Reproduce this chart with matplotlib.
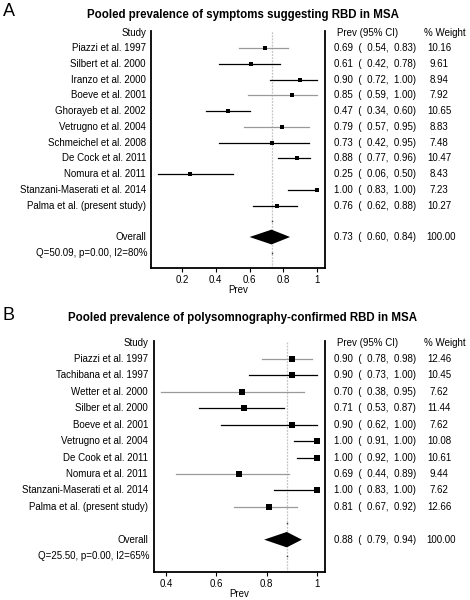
import matplotlib
matplotlib.use("Agg")
import matplotlib.pyplot as plt
import matplotlib.transforms as mtransforms

plt.rcParams['font.family'] = ['Liberation Sans', 'DejaVu Sans']

# panel A: symptoms suggesting RBD
studies_a = ["Piazzi et al. 1997", "Silbert et al. 2000", "Iranzo et al. 2000",
             "Boeve et al. 2001", "Ghorayeb et al. 2002", "Vetrugno et al. 2004",
             "Schmeichel et al. 2008", "De Cock et al. 2011", "Nomura et al. 2011",
             "Stanzani-Maserati et al. 2014", "Palma et al. (present study)"]
prev_a = [0.69, 0.61, 0.90, 0.85, 0.47, 0.79, 0.73, 0.88, 0.25, 1.00, 0.76]
lo_a = [0.54, 0.42, 0.72, 0.59, 0.34, 0.57, 0.42, 0.77, 0.06, 0.83, 0.62]
hi_a = [0.83, 0.78, 1.00, 1.00, 0.60, 0.95, 0.95, 0.96, 0.50, 1.00, 0.88]
weight_a = [10.16, 9.61, 8.94, 7.92, 10.65, 8.83, 7.48, 10.47, 8.43, 7.23, 10.27]
overall_a = [0.73, 0.60, 0.84]
het_a = "Q=50.09, p=0.00, I2=80%"
ticks_a = [0.2, 0.4, 0.6, 0.8, 1.0]
ticklabels_a = ["0.2", "0.4", "0.6", "0.8", "1"]

# panel B: polysomnography-confirmed RBD
studies_b = ["Piazzi et al. 1997", "Tachibana et al. 1997", "Wetter et al. 2000",
             "Silber et al. 2000", "Boeve et al. 2001", "Vetrugno et al. 2004",
             "De Cook et al. 2011", "Nomura et al. 2011",
             "Stanzani-Maserati et al. 2014", "Palma et al. (present study)"]
prev_b = [0.90, 0.90, 0.70, 0.71, 0.90, 1.00, 1.00, 0.69, 1.00, 0.81]
lo_b = [0.78, 0.73, 0.38, 0.53, 0.62, 0.91, 0.92, 0.44, 0.83, 0.67]
hi_b = [0.98, 1.00, 0.95, 0.87, 1.00, 1.00, 1.00, 0.89, 1.00, 0.92]
weight_b = [12.46, 10.45, 7.62, 11.44, 7.62, 10.08, 10.61, 9.44, 7.62, 12.66]
overall_b = [0.88, 0.79, 0.94]
het_b = "Q=25.50, p=0.00, I2=65%"
ticks_b = [0.4, 0.6, 0.8, 1.0]
ticklabels_b = ["0.4", "0.6", "0.8", "1"]

# CI line colours as they appear in the original figure
line_col_a = ['#9a9a9a', 'k', 'k', '#9a9a9a', 'k', '#9a9a9a', 'k', 'k', 'k', 'k', 'k']
line_col_b = ['#9a9a9a', 'k', '#9a9a9a', 'k', 'k', 'k', 'k', '#9a9a9a', 'k', '#9a9a9a']

W, H = 470, 600
fig = plt.figure(figsize=(W / 100, H / 100), dpi=100)


def forest(box, xlim, studies, prev, lo, hi, weight, overall, het, ticks, ticklabels,
           line_cols, title, letter, title_y, letter_y, ms0, label_x):
    left, right, top, bottom = box
    ax = fig.add_axes([left / W, 1 - bottom / H, (right - left) / W, (bottom - top) / H])
    n = len(studies)
    ax.set_xlim(*xlim)
    ax.set_ylim(n + 3.97, -0.1)
    fs = 7

    def fx(px):
        return (px - left) / (right - left)

    trans = mtransforms.blended_transform_factory(ax.transAxes, ax.transData)

    # dotted reference line at the pooled estimate
    ax.axvline(overall[0], color='#c4c4c4', ls=(0, (1.5, 1)), lw=0.9, zorder=1)
    ax.plot([overall[0], overall[0]], [n + 1, n + 3], ls='none', marker='s', ms=1,
            mew=0, color='#333333', zorder=2)

    rows = list(range(1, n + 1))
    for r, p, l, h, w, c in zip(rows, prev, lo, hi, weight, line_cols):
        ax.plot([l, h], [r, r], color=c, lw=0.9, zorder=3)
        ax.plot([p], [r], marker='s', color='k', mew=0, ms=ms0 + 0.1 * w, zorder=4)

    # pooled diamond
    ro = n + 2
    ax.fill([overall[1], overall[0], overall[2], overall[0]],
            [ro, ro - 0.47, ro, ro + 0.47], color='k', zorder=4, lw=0)

    # left column
    ax.text(fx(label_x), 0, "Study", transform=trans, ha='right', va='center', fontsize=fs)
    for r, s in zip(rows, studies):
        ax.text(fx(label_x), r, s, transform=trans, ha='right', va='center', fontsize=fs)
    ax.text(fx(label_x), ro, "Overall", transform=trans, ha='right', va='center', fontsize=fs)
    ax.text(fx(label_x + 2), ro + 1, het, transform=trans, ha='right', va='center', fontsize=fs)

    # right columns
    ax.text(fx(337), 0, "Prev (95% CI)", transform=trans, ha='left', va='center', fontsize=fs)
    ax.text(fx(445), 0, "% Weight", transform=trans, ha='center', va='center', fontsize=fs)
    for r, p, l, h, w in zip(rows, prev, lo, hi, weight):
        ax.text(fx(334), r, "%.2f  (  %.2f,  %.2f)" % (p, l, h), transform=trans,
                ha='left', va='center', fontsize=fs)
        ax.text(fx(439), r, "%.2f" % w, transform=trans, ha='center', va='center', fontsize=fs)
    ax.text(fx(334), ro, "%.2f  (  %.2f,  %.2f)" % tuple(overall), transform=trans,
            ha='left', va='center', fontsize=fs)
    ax.text(fx(441), ro, "100.00", transform=trans, ha='center', va='center', fontsize=fs)

    ax.spines['top'].set_visible(False)
    for sp in ['left', 'right', 'bottom']:
        ax.spines[sp].set_linewidth(1.3)
    ax.set_yticks([])
    ax.set_xticks(ticks)
    ax.set_xticklabels(ticklabels, fontsize=fs)
    ax.tick_params(axis='x', length=3, width=0.8, pad=2)
    ax.set_xlabel("Prev", fontsize=fs, labelpad=0)

    fig.text(243 / W, 1 - title_y / H, title, ha='center', va='center',
             fontsize=8.3, fontweight='bold')
    fig.text(3 / W, 1 - letter_y / H, letter, ha='left', va='center', fontsize=13)
    return ax


forest((151, 325, 31, 268), (0.016, 1.047), studies_a, prev_a, lo_a, hi_a, weight_a,
       overall_a, het_a, ticks_a, ticklabels_a, line_col_a,
       "Pooled prevalence of symptoms suggesting RBD in MSA", "A", 15, 12, 2.4, 146)

forest((154, 325, 341, 572), (0.352, 1.032), studies_b, prev_b, lo_b, hi_b, weight_b,
       overall_b, het_b, ticks_b, ticklabels_b, line_col_b,
       "Pooled prevalence of polysomnography-confirmed RBD in MSA", "B", 318, 315, 3.0, 148)

fig.savefig("out.png", dpi=100)
